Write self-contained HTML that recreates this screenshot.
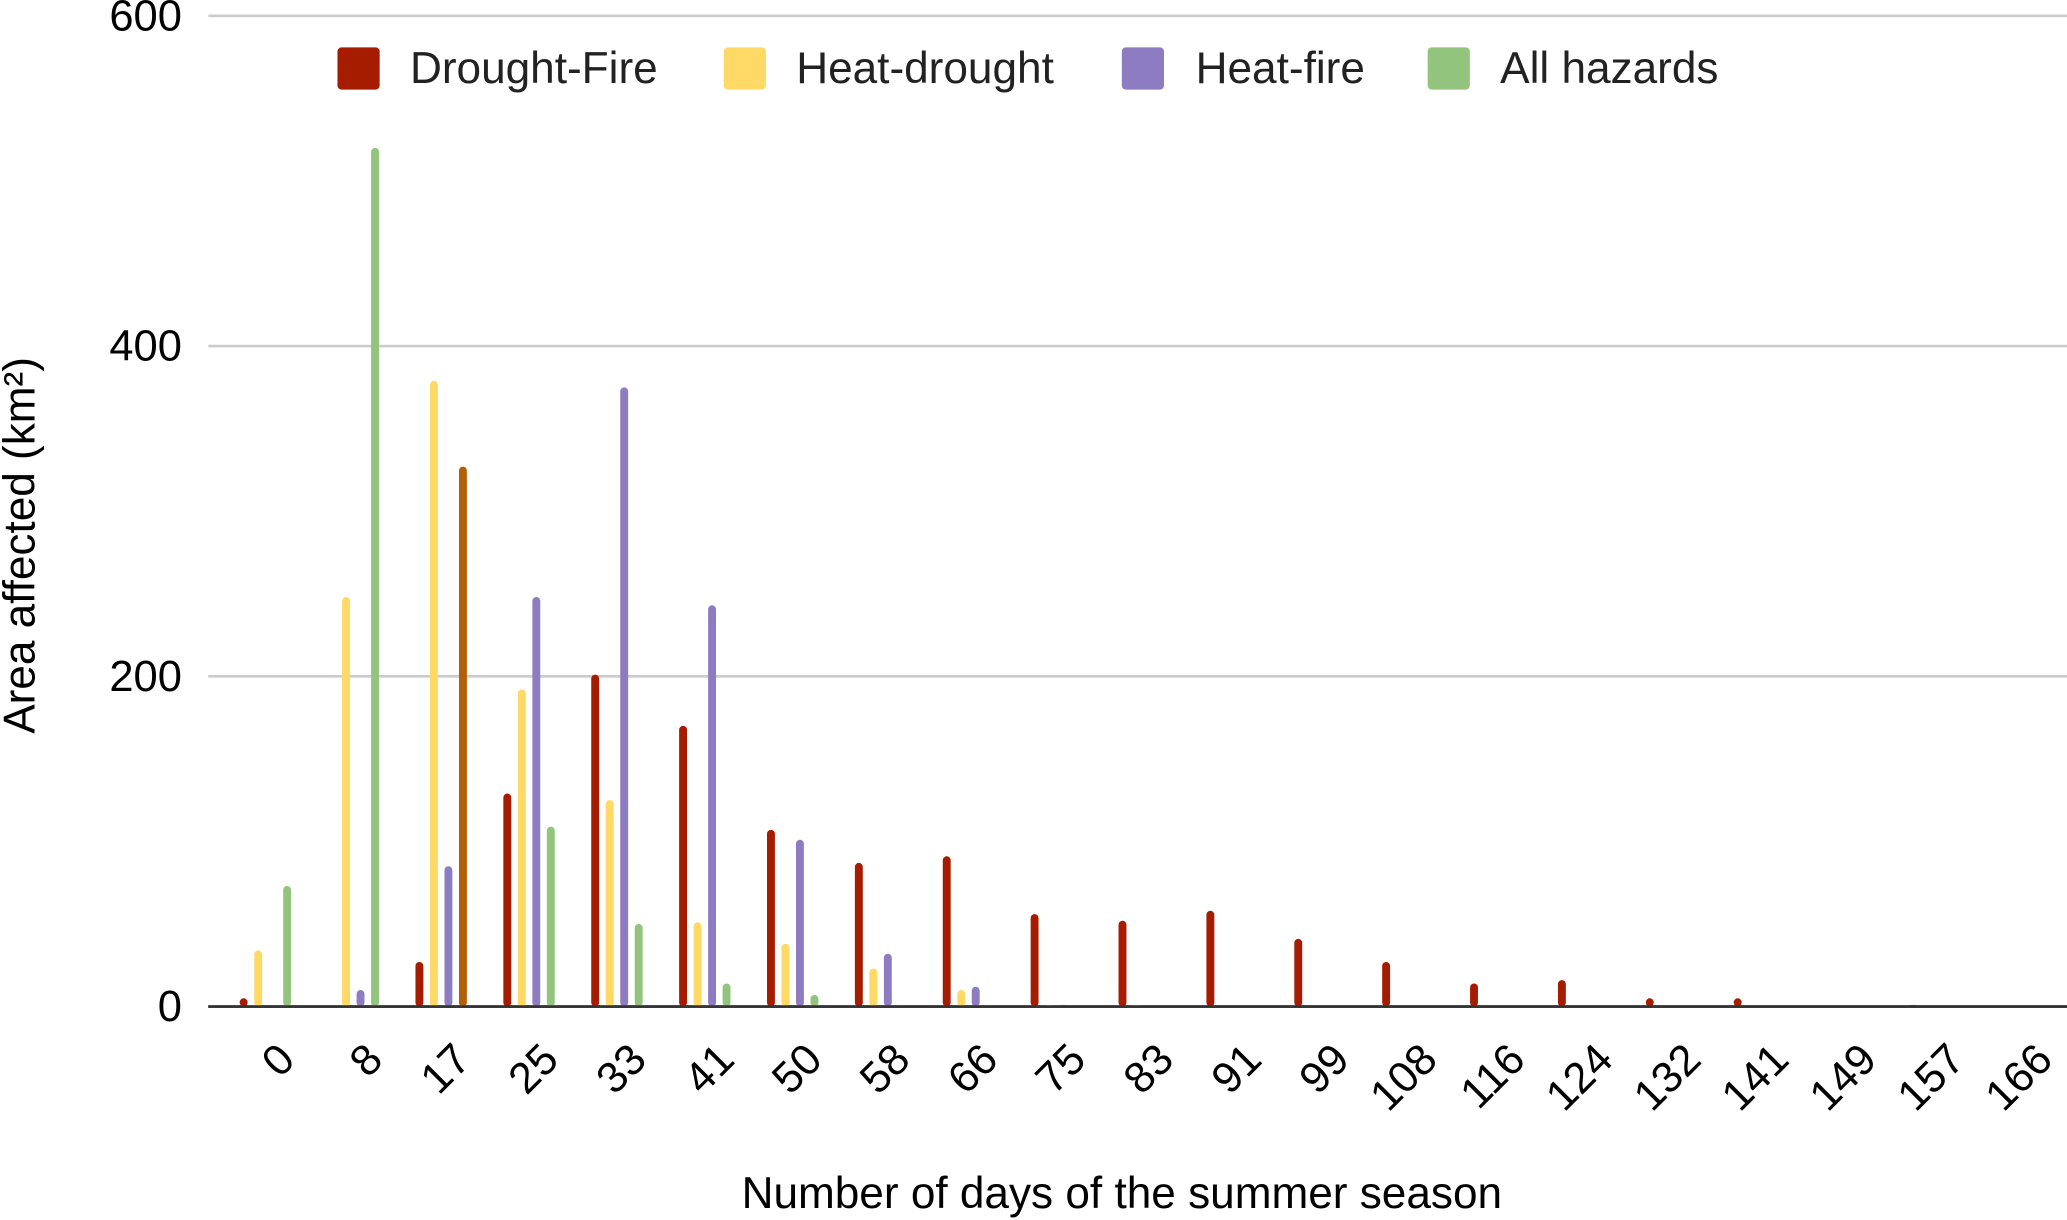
<!DOCTYPE html>
<html><head><meta charset="utf-8"><style>
html,body{margin:0;padding:0;background:#fff;}
svg{display:block;font-family:"Liberation Sans",Arial,sans-serif;}
</style></head><body>
<svg id="chart" width="2067" height="1220" viewBox="0 0 1568 926" preserveAspectRatio="none" xmlns="http://www.w3.org/2000/svg">
<g id="grid"></g>
<g id="bars"></g>
<g id="xlabels"></g>
<g id="ylabels"></g>
<g>
 <g><rect x="256" y="36" width="32" height="32" rx="3" fill="#a61c00"/><text x="311" y="63" font-size="33.5" fill="#222">Drought-Fire</text></g>
 <g><rect x="549" y="36" width="32" height="32" rx="3" fill="#ffd966"/><text x="604" y="63" font-size="33.5" fill="#222">Heat-drought</text></g>
 <g><rect x="851" y="36" width="32" height="32" rx="3" fill="#8e7cc3"/><text x="907" y="63" font-size="33.5" fill="#222">Heat-fire</text></g>
 <g><rect x="1083" y="36" width="32" height="32" rx="3" fill="#93c47d"/><text x="1138" y="63" font-size="33.5" fill="#222">All hazards</text></g>
</g>
<text transform="translate(26,414) rotate(-90)" text-anchor="middle" font-size="33.5" fill="#000">Area affected (km²)</text>
<text x="851" y="917" text-anchor="middle" font-size="33.5" fill="#000">Number of days of the summer season</text>
</svg>
<script>
const categories=["0","8","17","25","33","41","50","58","66","75","83","91","99","108","116","124","132","141","149","157","166"];
const droughtFire=[5,0,27,129,201,170,107,87,91,56,52,58,41,27,14,16,5,5,0,1,0];
const heatDrought=[34,248,379,192,125,51,38,23,10,1,1,0,0,0,0,0,0,0,0,0,0];
const heatFire=[0,10,85,248,375,243,101,32,12,1,0,0,0,0,0,0,0,0,0,0,0];
const allHazards=[73,520,327,109,50,14,7,1,1,0,0,0,0,0,0,0,0,0,0,0,0];
const allHazardsColors=["#93c47d","#93c47d","#b45f06"];
const yTicks=[0,200,400,600];
const NS="http://www.w3.org/2000/svg";
const x0=168,x1=1568,yB=764,yT=12,yMax=600;
const gw=(x1-x0)/categories.length;
const yS=v=>yB-(v/yMax)*(yB-yT);
const xC=i=>x0+gw*(i+0.5);
function mk(t,a){const e=document.createElementNS(NS,t);for(const k in a)e.setAttribute(k,a[k]);return e;}
const grid=document.getElementById('grid'),ylab=document.getElementById('ylabels');
yTicks.forEach(t=>{
 const l=mk('line',{x1:158,x2:1568,y1:yS(t),y2:yS(t),stroke:t===0?'#333':'#ccc','stroke-width':2});
 
 
 grid.appendChild(l);
 const tx=mk('text',{x:138,y:yS(t)+11,'text-anchor':'end','font-size':33,fill:'#000'});
 tx.textContent=t;
 
 
 ylab.appendChild(tx);
});
const series=[[droughtFire,'#a61c00',-16.5,'drought-fire'],[heatDrought,'#ffd966',-5.5,'heat-drought'],[heatFire,'#8e7cc3',5.5,'heat-fire'],[allHazards,'#93c47d',16.5,'all-hazards']];
const bars=document.getElementById('bars');
series.forEach(([arr,col,off,nm])=>{
 arr.forEach((v,i)=>{
  if(v<=0)return;
  let c=col;
  if(nm==='all-hazards'&&allHazardsColors[i])c=allHazardsColors[i];
  const h=yB-yS(v);
  const r=mk('rect',{x:xC(i)+off-3,y:yS(v),width:6,height:h,rx:3,fill:c});
  
  
  bars.appendChild(r);
 });
});
const axis=mk('line',{x1:158,x2:1568,y1:yB,y2:yB,stroke:'#333','stroke-width':2});


bars.appendChild(axis);
const xl=document.getElementById('xlabels');
categories.forEach((c,i)=>{
 const cx=xC(i)+24,cy=806;
 const t=mk('text',{x:cx,y:cy,'text-anchor':'end','font-size':33,fill:'#000',transform:`rotate(-45 ${cx} ${cy})`});
 t.textContent=c;
 
 
 xl.appendChild(t);
});
</script>
</body></html>
